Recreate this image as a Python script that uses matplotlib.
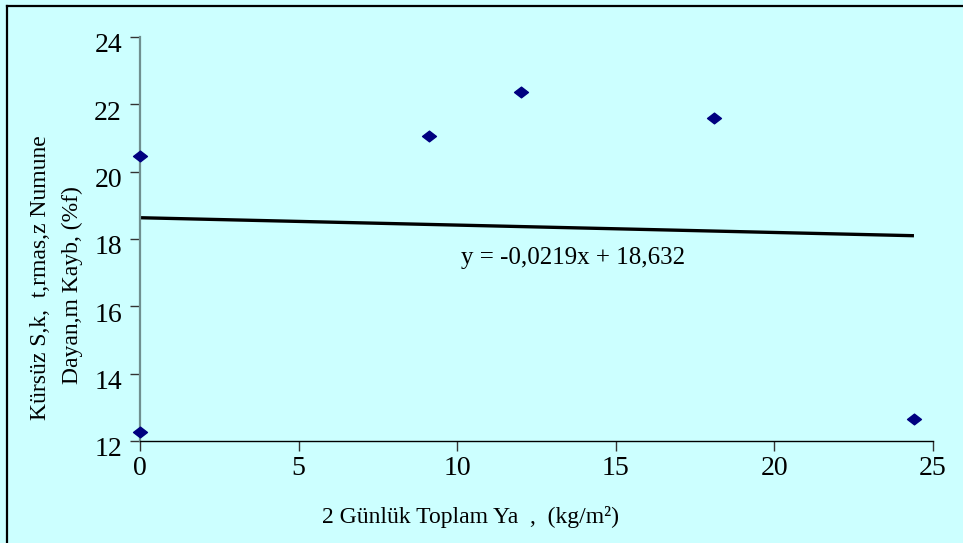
import matplotlib
matplotlib.use("Agg")
import matplotlib.pyplot as plt
from matplotlib.path import Path
from matplotlib.lines import Line2D
from matplotlib.transforms import ScaledTranslation

# Rainfall (kg/m²) vs. loss of strength (%)
rain = [0.0, 0.0, 9.1, 12.0, 18.1, 24.4]
loss = [20.46, 12.27, 21.06, 22.37, 21.58, 12.65]

slope = -0.0219
intercept = 18.632

x_ticks = [0, 5, 10, 15, 20, 25]
y_ticks = [12, 14, 16, 18, 20, 22, 24]

bg = "#CCFFFF"
W, H = 963, 543
fig = plt.figure(figsize=(W / 100, H / 100), dpi=100, facecolor=bg)
ax = fig.add_axes([140 / W, 1 - 441 / H, (933 - 140) / W, (441 - 37) / H])
ax.set_facecolor(bg)

serif = ["Liberation Serif", "DejaVu Serif"]

# flattened diamond marker
diamond = Path([(0, 0.77), (1, 0), (0, -0.77), (-1, 0), (0, 0.77)],
               [Path.MOVETO, Path.LINETO, Path.LINETO, Path.LINETO, Path.CLOSEPOLY])

ax.plot(rain, loss, linestyle="none", marker=diamond, markersize=10,
        color="#000080", clip_on=False, zorder=3)

x0, x1 = min(rain), max(rain)
ax.plot([x0, x1], [slope * x0 + intercept, slope * x1 + intercept],
        color="black", linewidth=2.4, solid_capstyle="butt", zorder=2)

ax.set_xlim(0, 25)
ax.set_ylim(12, 24)
ax.set_xticks(x_ticks)
ax.set_yticks(y_ticks)
ax.set_xticklabels([str(v) for v in x_ticks], fontfamily=serif, fontsize=20)
ax.set_yticklabels([str(v) for v in y_ticks], fontfamily=serif, fontsize=20)

for s in ("top", "right"):
    ax.spines[s].set_visible(False)
ax.spines["left"].set_color("#6f8f8f")
ax.spines["left"].set_linewidth(1.6)
ax.spines["bottom"].set_color("black")
ax.spines["bottom"].set_linewidth(1.0)
ax.tick_params(axis="both", direction="out", length=7, width=1.0, color="#333333")
ax.tick_params(axis="y", pad=6)
ax.tick_params(axis="x", pad=4)

# y tick labels sit slightly below their ticks
shift = ScaledTranslation(0, -6 / 100, fig.dpi_scale_trans)
for lbl in ax.get_yticklabels():
    lbl.set_transform(lbl.get_transform() + shift)

ax.text(0.5465, 0.4525, "y = -0,0219x + 18,632", transform=ax.transAxes,
        ha="center", va="center", fontfamily=serif, fontsize=18)

fig.text(470 / W, 1 - 517 / H, "2 Günlük Toplam Ya  ,  (kg/m²)",
         ha="center", va="center", fontfamily=serif, fontsize=17)
fig.text(40 / W, 1 - 278 / H, "Kürsüz S,k,  t,rmas,z Numune",
         ha="center", va="center", rotation=90, fontfamily=serif, fontsize=17)
fig.text(72 / W, 1 - 285 / H, "Dayan,m Kayb, (%f)",
         ha="center", va="center", rotation=90, fontfamily=serif, fontsize=17)

# chart frame (top and left edges)
fig.add_artist(Line2D([7 / W, 7 / W], [0, 1 - 6 / H], transform=fig.transFigure,
                      color="black", linewidth=1.6))
fig.add_artist(Line2D([7 / W, 1], [1 - 6 / H, 1 - 6 / H], transform=fig.transFigure,
                      color="black", linewidth=1.6))

fig.savefig("out.png", dpi=100, facecolor=bg)
